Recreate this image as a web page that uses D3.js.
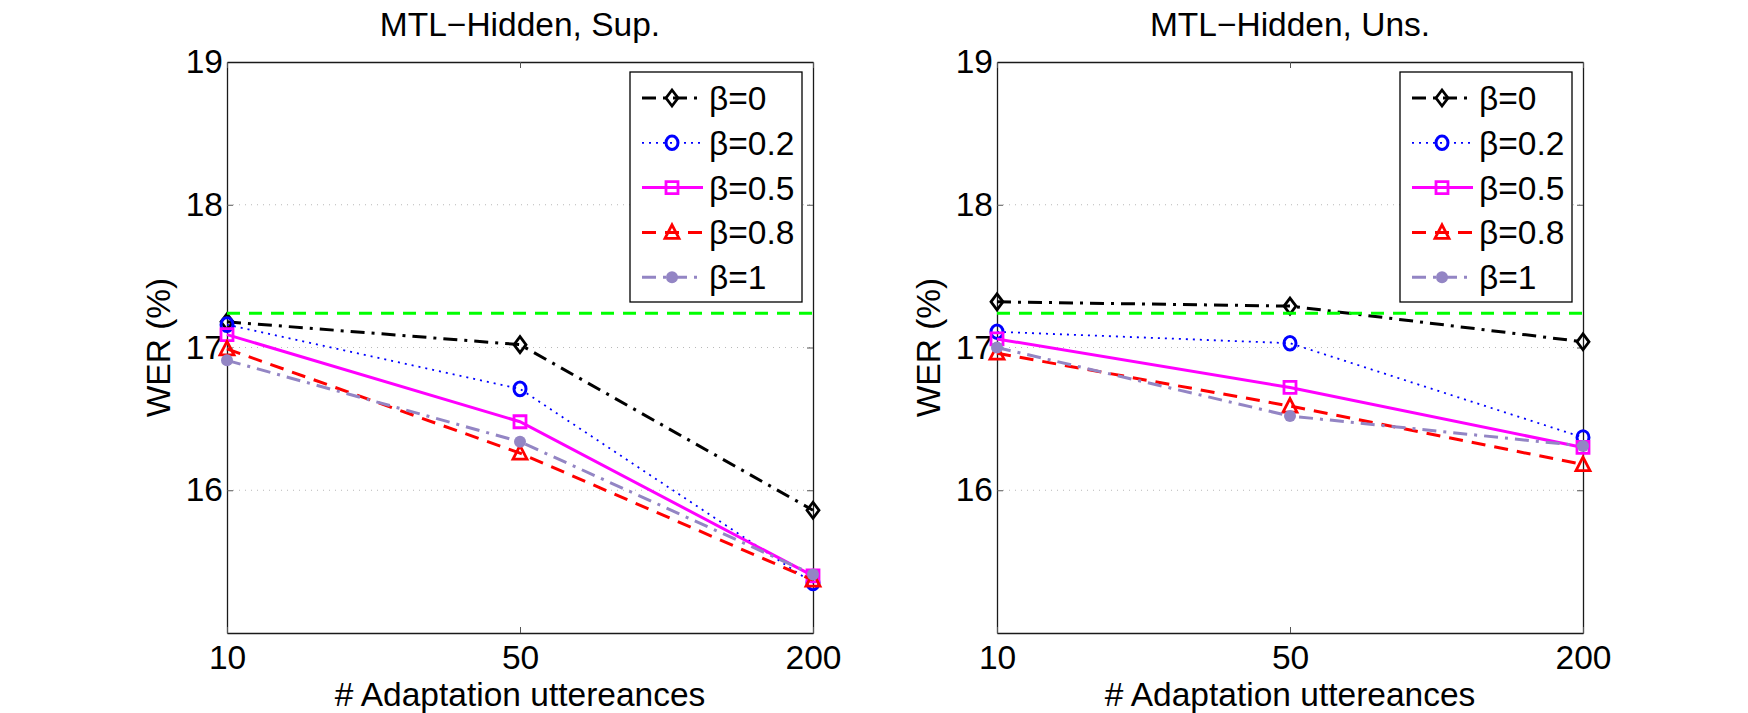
<!DOCTYPE html>
<html>
<head>
<meta charset="utf-8">
<script src="https://cdn.jsdelivr.net/npm/d3@7"></script>
<style>
  body { margin: 0; background: #fff; }
  text { font-family: "Liberation Sans", Arial, Helvetica, sans-serif; fill: #000; }
</style>
</head>
<body>
<div id="chart"></div>
<script>
// Categories on the x axis
var adaptCounts = ["10", "50", "200"];

// Legend names
var betaNames = ["\u03b2=0", "\u03b2=0.2", "\u03b2=0.5", "\u03b2=0.8", "\u03b2=1"];

// Supervised panel values (WER %)
var supBeta0 = [17.18, 17.02, 15.86];
var supBeta02 = [17.16, 16.71, 15.35];
var supBeta05 = [17.09, 16.48, 15.40];
var supBeta08 = [16.99, 16.26, 15.37];
var supBeta1 = [16.91, 16.34, 15.41];

// Unsupervised panel values (WER %)
var unsBeta0 = [17.32, 17.29, 17.04];
var unsBeta02 = [17.11, 17.03, 16.37];
var unsBeta05 = [17.06, 16.72, 16.30];
var unsBeta08 = [16.96, 16.59, 16.18];
var unsBeta1 = [17.00, 16.52, 16.31];

// Speaker-independent baseline (green dashed line)
var baselineWER = 17.24;

// Axis ticks
var yTickValues = [16, 17, 18, 19];
var yDomain = [15, 19];

var panelTitles = ["MTL\u2212Hidden, Sup.", "MTL\u2212Hidden, Uns."];

// Line styles per series
var styles = [
    { color: "#000000", dash: "14,7,3,7", width: 3, marker: "diamond" },
    { color: "#0000ff", dash: "2,5", width: 1.8, marker: "circle" },
    { color: "#ff00ff", dash: null, width: 3, marker: "square" },
    { color: "#ff0000", dash: "14,9", width: 3, marker: "triangle" },
    { color: "#9385c4", dash: "14,7,3,7", width: 3, marker: "dot" }
];

var W = 1748, H = 713;
var plotW = 586, plotH = 571, plotTop = 62;
var panelLeft = [227, 997];
var fontSize = "33.5px";

var svg = d3.select("#chart").append("svg")
    .attr("width", W)
    .attr("height", H);

svg.append("rect").attr("width", W).attr("height", H).attr("fill", "#fff");

// Marker path builder
function markerPath(type) {
    if (type == "diamond") return "M0,-8L6,0L0,8L-6,0Z";
    if (type == "square") return "M-6,-6H6V6H-6Z";
    if (type == "triangle") return "M0,-7.5L7,6L-7,6Z";
    return null;
}

function drawMarker(g, type, color, cx, cy) {
    if (type == "circle") {
        g.append("ellipse")
            .attr("cx", cx).attr("cy", cy)
            .attr("rx", 6).attr("ry", 6.8)
            .attr("fill", "none")
            .attr("stroke", color)
            .attr("stroke-width", 3);
    } else if (type == "dot") {
        g.append("circle")
            .attr("cx", cx).attr("cy", cy)
            .attr("r", 6)
            .attr("fill", color);
    } else {
        g.append("path")
            .attr("d", markerPath(type))
            .attr("transform", "translate(" + cx + "," + cy + ")")
            .attr("fill", "none")
            .attr("stroke", color)
            .attr("stroke-width", 2.8);
    }
}

function drawPanel(index, seriesList) {
    var g = svg.append("g")
        .attr("transform", "translate(" + panelLeft[index] + "," + plotTop + ")");

    var x = d3.scalePoint().domain(adaptCounts).range([0, plotW]).padding(0);
    var y = d3.scaleLinear().domain(yDomain).range([plotH, 0]);

    // Dotted horizontal grid
    g.selectAll(".grid")
        .data([16, 17, 18])
        .join("line")
        .attr("class", "grid")
        .attr("x1", 0).attr("x2", plotW)
        .attr("y1", d => y(d)).attr("y2", d => y(d))
        .attr("stroke", "#b8b8b8")
        .attr("stroke-width", 1)
        .attr("stroke-dasharray", "1,5");

    // Axes with inward ticks
    var left = g.append("g")
        .call(d3.axisLeft(y).tickValues(yTickValues).tickFormat(d3.format("d"))
            .tickSize(-6).tickSizeOuter(0).tickPadding(4));
    var right = g.append("g")
        .attr("transform", "translate(" + plotW + ",0)")
        .call(d3.axisRight(y).tickValues(yTickValues).tickSize(-6).tickSizeOuter(0).tickFormat(""));
    var bottom = g.append("g")
        .attr("transform", "translate(0," + plotH + ")")
        .call(d3.axisBottom(x).tickSize(-6).tickSizeOuter(0).tickPadding(12));
    var top = g.append("g")
        .call(d3.axisTop(x).tickSize(-6).tickSizeOuter(0).tickFormat(""));

    [left, right, bottom, top].forEach(function (a) {
        a.selectAll("path.domain").attr("stroke", "#1a1a1a").attr("stroke-width", 1.3);
        a.selectAll(".tick line").attr("stroke", "#555").attr("stroke-width", 1);
        a.selectAll("text").style("font-size", fontSize).attr("fill", "#000");
    });

    var lineGroup = g.append("g");

    var line = d3.line()
        .x((d, i) => x(adaptCounts[i]))
        .y(d => y(d));

    seriesList.forEach(function (vals, s) {
        var st = styles[s];
        lineGroup.append("path")
            .datum(vals)
            .attr("d", line)
            .attr("fill", "none")
            .attr("stroke", st.color)
            .attr("stroke-width", st.width)
            .attr("stroke-dasharray", st.dash);
        vals.forEach(function (v, i) {
            drawMarker(lineGroup, st.marker, st.color, x(adaptCounts[i]), y(v));
        });
    });

    // Baseline
    lineGroup.append("line")
        .attr("x1", 0).attr("x2", plotW)
        .attr("y1", y(baselineWER)).attr("y2", y(baselineWER))
        .attr("stroke", "#00ff00")
        .attr("stroke-width", 3.2)
        .attr("stroke-dasharray", "13,9");

    // Title and axis labels
    g.append("text")
        .attr("x", plotW / 2).attr("y", -26)
        .attr("text-anchor", "middle")
        .style("font-size", fontSize)
        .text(panelTitles[index]);

    g.append("text")
        .attr("x", plotW / 2).attr("y", plotH + 73)
        .attr("text-anchor", "middle")
        .style("font-size", fontSize)
        .text("# Adaptation uttereances");

    g.append("text")
        .attr("transform", "translate(-57," + (plotH / 2) + ") rotate(-90)")
        .attr("text-anchor", "middle")
        .style("font-size", fontSize)
        .text("WER (%)");

    // Legend
    var lg = g.append("g").attr("transform", "translate(403,10)");
    lg.append("rect")
        .attr("width", 172).attr("height", 230)
        .attr("fill", "#fff")
        .attr("stroke", "#000")
        .attr("stroke-width", 1.3);

    betaNames.forEach(function (name, s) {
        var st = styles[s];
        var ry = 26 + s * 44.8;
        lg.append("line")
            .attr("x1", 12).attr("x2", 73)
            .attr("y1", ry).attr("y2", ry)
            .attr("stroke", st.color)
            .attr("stroke-width", st.width)
            .attr("stroke-dasharray", st.dash);
        drawMarker(lg, st.marker, st.color, 42, ry);
        lg.append("text")
            .attr("x", 79).attr("y", ry + 12)
            .style("font-size", fontSize)
            .text(name);
    });
}

drawPanel(0, [supBeta0, supBeta02, supBeta05, supBeta08, supBeta1]);
drawPanel(1, [unsBeta0, unsBeta02, unsBeta05, unsBeta08, unsBeta1]);
</script>
</body>
</html>
